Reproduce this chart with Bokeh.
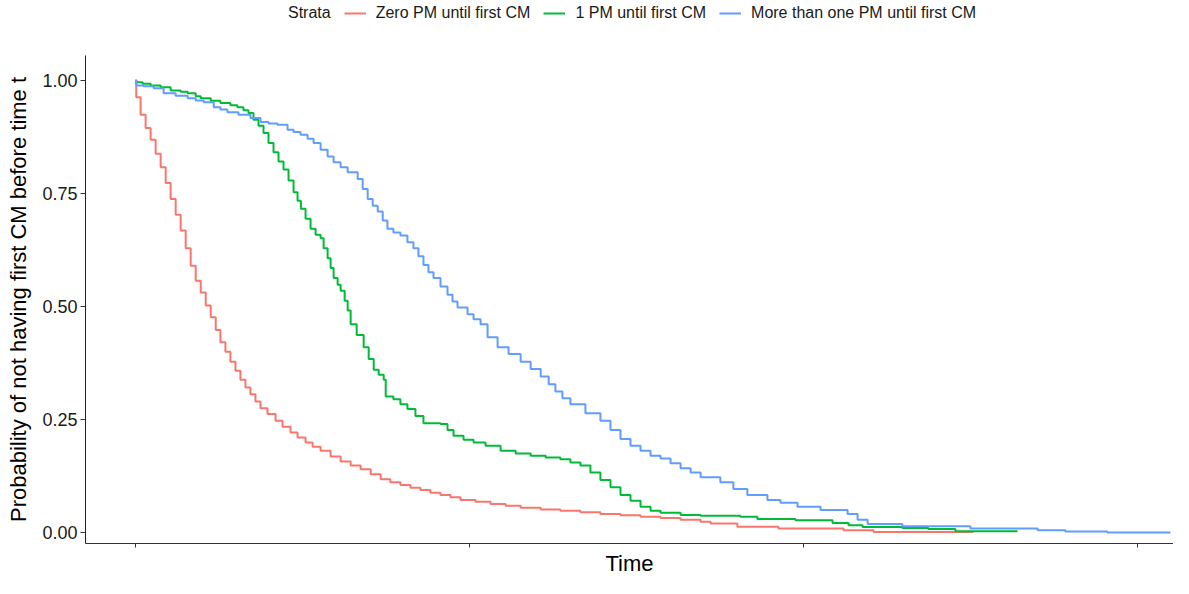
from bokeh.plotting import figure
from bokeh.layouts import column
from bokeh.models import Range1d, FixedTicker, Legend, LegendItem, CustomJSTickFormatter
from bokeh.embed import file_html
from bokeh.resources import INLINE

# Kaplan-Meier style estimates (time in days, survival probability)
zero_t = [0, 2, 15, 30, 45, 60, 75, 90, 105, 120, 135, 150, 165, 180, 195, 210, 225, 240, 254,
          269, 284, 299, 314, 329, 344, 359, 374, 395, 419, 440, 464, 485, 509, 530, 554, 584,
          614, 644, 674, 704, 734, 763, 793, 823, 853, 883, 913, 943, 973, 1018, 1063, 1108,
          1153, 1213, 1272, 1332, 1392, 1452, 1512, 1572, 1632, 1692, 1722, 1802, 1925, 2120,
          2210, 2509]
zero_s = [1.000, 0.963, 0.924, 0.895, 0.869, 0.838, 0.808, 0.773, 0.738, 0.703, 0.668, 0.629,
          0.590, 0.557, 0.531, 0.502, 0.476, 0.448, 0.421, 0.400, 0.378, 0.358, 0.338, 0.321,
          0.306, 0.290, 0.275, 0.262, 0.247, 0.234, 0.221, 0.210, 0.199, 0.190, 0.181, 0.168,
          0.157, 0.148, 0.140, 0.129, 0.118, 0.111, 0.105, 0.099, 0.094, 0.088, 0.083, 0.078,
          0.072, 0.068, 0.063, 0.059, 0.055, 0.051, 0.048, 0.045, 0.041, 0.038, 0.035, 0.032,
          0.028, 0.024, 0.020, 0.013, 0.009, 0.005, 0.001, 0.001]

one_t = [0, 2, 21, 45, 75, 105, 135, 156, 180, 195, 225, 254, 284, 305, 323, 338, 353, 368, 383,
         398, 413, 428, 443, 458, 473, 485, 495, 509, 524, 539, 554, 563, 575, 584, 593, 605,
         614, 626, 635, 644, 662, 683, 698, 713, 728, 743, 749, 772, 793, 814, 838, 862, 913,
         934, 952, 982, 1012, 1048, 1093, 1138, 1183, 1228, 1272, 1302, 1332, 1362, 1392, 1422,
         1452, 1482, 1512, 1542, 1572, 1632, 1692, 1811, 1862, 1976, 2087, 2135, 2177, 2296,
         2374, 2455, 2641]
one_s = [1.000, 0.996, 0.993, 0.989, 0.985, 0.978, 0.975, 0.972, 0.965, 0.961, 0.955, 0.950,
         0.945, 0.941, 0.934, 0.928, 0.913, 0.900, 0.884, 0.862, 0.841, 0.821, 0.803, 0.779,
         0.753, 0.734, 0.716, 0.694, 0.672, 0.659, 0.651, 0.629, 0.607, 0.585, 0.563, 0.548,
         0.535, 0.513, 0.491, 0.461, 0.437, 0.410, 0.384, 0.360, 0.349, 0.338, 0.301, 0.295,
         0.284, 0.273, 0.258, 0.242, 0.240, 0.227, 0.214, 0.205, 0.199, 0.192, 0.181, 0.175,
         0.170, 0.166, 0.162, 0.155, 0.148, 0.133, 0.116, 0.100, 0.083, 0.070, 0.057, 0.048,
         0.044, 0.039, 0.037, 0.035, 0.030, 0.027, 0.021, 0.016, 0.012, 0.010, 0.008, 0.003,
         0.003]

more_t = [0, 2, 24, 54, 84, 120, 156, 180, 204, 234, 254, 275, 308, 344, 374, 398, 425, 455,
          473, 494, 515, 533, 554, 575, 593, 614, 635, 665, 680, 695, 710, 725, 740, 754, 772,
          793, 814, 832, 847, 862, 877, 892, 913, 934, 949, 964, 994, 1012, 1033, 1054, 1084,
          1117, 1153, 1183, 1213, 1237, 1257, 1278, 1302, 1347, 1392, 1422, 1452, 1482, 1512,
          1542, 1572, 1602, 1632, 1662, 1692, 1751, 1790, 1832, 1892, 1931, 1982, 2051, 2132,
          2162, 2192, 2296, 2500, 2701, 2784, 2910, 3099]
more_s = [1.000, 0.989, 0.987, 0.983, 0.972, 0.966, 0.961, 0.956, 0.952, 0.941, 0.936, 0.930,
          0.924, 0.917, 0.908, 0.905, 0.902, 0.891, 0.886, 0.880, 0.871, 0.862, 0.847, 0.832,
          0.819, 0.808, 0.797, 0.782, 0.760, 0.738, 0.723, 0.710, 0.690, 0.672, 0.664, 0.657,
          0.642, 0.629, 0.611, 0.592, 0.576, 0.563, 0.544, 0.526, 0.511, 0.498, 0.483, 0.472,
          0.461, 0.432, 0.410, 0.395, 0.378, 0.362, 0.345, 0.328, 0.312, 0.297, 0.284, 0.264,
          0.247, 0.227, 0.207, 0.192, 0.181, 0.170, 0.164, 0.153, 0.142, 0.133, 0.122, 0.111,
          0.096, 0.083, 0.072, 0.066, 0.057, 0.050, 0.041, 0.028, 0.019, 0.014, 0.009, 0.005,
          0.002, 0.000, 0.000]

legend_title = "Strata"
strata = ["Zero PM until first CM", "1 PM until first CM", "More than one PM until first CM"]
colors = ["#F8766D", "#00BA38", "#619CFF"]
x_ticks = [0, 1000, 2000, 3000]
y_ticks = [0.0, 0.25, 0.5, 0.75, 1.0]

FONT = "Liberation Sans"
series_t = [zero_t, one_t, more_t]
series_s = [zero_s, one_s, more_s]

# ---- main plot ----
p = figure(width=1173, height=523, output_backend="svg", toolbar_location=None,
           x_range=Range1d(-150, 3108), y_range=Range1d(-0.0243, 1.0553),
           min_border_left=85, min_border_right=0, min_border_top=0, min_border_bottom=24)
p.outline_line_color = None
p.xgrid.visible = False
p.ygrid.visible = False
p.background_fill_color = "white"

for t, s, c in zip(series_t, series_s, colors):
    p.step(t, s, mode="after", line_color=c, line_width=2)

p.xaxis.ticker = FixedTicker(ticks=x_ticks)
p.xaxis.major_label_text_font_size = "0px"
p.xaxis.major_label_standoff = 0
p.xaxis.minor_tick_line_color = None
p.xaxis.major_tick_out = 4
p.xaxis.major_tick_in = 0
p.xaxis.axis_label = "Time"
p.xaxis.axis_label_text_font = FONT
p.xaxis.axis_label_text_font_size = "22px"
p.xaxis.axis_label_text_font_style = "normal"
p.xaxis.axis_label_text_color = "black"
p.xaxis.axis_label_standoff = 3
p.xaxis.axis_line_color = "#333333"
p.xaxis.major_tick_line_color = "#333333"

p.yaxis.ticker = FixedTicker(ticks=y_ticks)
p.yaxis.formatter = CustomJSTickFormatter(code="return tick.toFixed(2);")
p.yaxis.major_label_text_font = FONT
p.yaxis.major_label_text_font_size = "18px"
p.yaxis.major_label_text_color = "#1a1a1a"
p.yaxis.major_label_standoff = 3
p.yaxis.minor_tick_line_color = None
p.yaxis.major_tick_out = 5
p.yaxis.major_tick_in = 0
p.yaxis.axis_label = "Probability of not having first CM before time t"
p.yaxis.axis_label_text_font = FONT
p.yaxis.axis_label_text_font_size = "22px"
p.yaxis.axis_label_text_font_style = "normal"
p.yaxis.axis_label_text_color = "black"
p.yaxis.axis_label_standoff = 8
p.yaxis.axis_line_color = "#222222"
p.yaxis.major_tick_line_color = "#333333"

# ---- legend strip on top (series drawn outside its view, used only as legend keys) ----
lg = figure(width=1173, height=55, output_backend="svg", toolbar_location=None,
            x_axis_type=None, y_axis_type=None,
            x_range=Range1d(-150, 3108), y_range=Range1d(5, 6),
            min_border_left=0, min_border_right=0, min_border_top=0, min_border_bottom=0)
lg.outline_line_color = None
lg.xgrid.visible = False
lg.ygrid.visible = False
title_r = lg.step(zero_t, zero_s, mode="after", line_alpha=0)
key_r = [lg.step(t, s, mode="after", line_color=c, line_width=2)
         for t, s, c in zip(series_t, series_s, colors)]

items = [LegendItem(label=legend_title, renderers=[title_r])]
items += [LegendItem(label=lab, renderers=[r]) for lab, r in zip(strata, key_r)]
legend = Legend(items=items, orientation="horizontal", location=(171, 33),
                label_text_font=FONT, label_text_font_size="16px", label_text_color="#1a1a1a",
                label_height=16, glyph_height=16, glyph_width=22, label_standoff=10,
                spacing=13, padding=0, margin=0, border_line_color=None,
                background_fill_alpha=0)
lg.add_layout(legend, "center")

layout = column(lg, p, spacing=0)
open("out.html", "w").write(file_html(layout, INLINE))
